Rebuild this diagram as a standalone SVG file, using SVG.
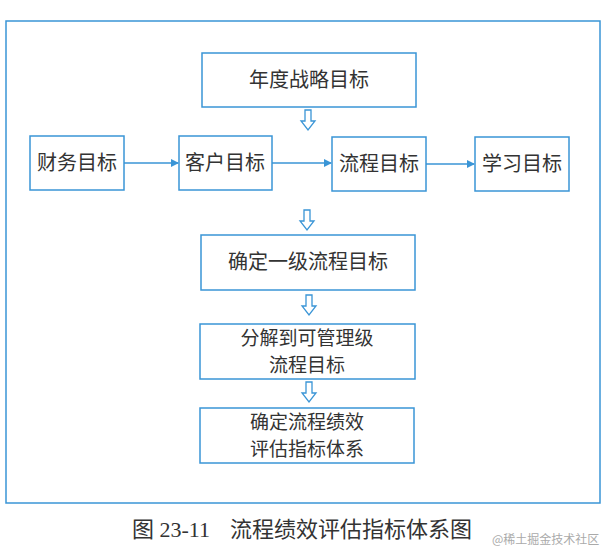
<svg xmlns="http://www.w3.org/2000/svg" width="608" height="550" viewBox="0 0 608 550">
<style>
.b{fill:#fff;stroke:#3a95d6;stroke-width:1.5}
.t{font-family:"Noto Sans CJK SC","Liberation Serif",serif;font-size:20px;fill:#333;text-anchor:middle}
.s{font-size:19px}
.h{fill:#fff;stroke:#3a95d6;stroke-width:1.3}
.l{stroke:#3a95d6;stroke-width:1.5;fill:none}
</style>
<defs><marker id="a" markerWidth="8" markerHeight="8" refX="7" refY="4" orient="auto" markerUnits="userSpaceOnUse"><path d="M0,0 L8,4 L0,8 Z" fill="#3a95d6"/></marker></defs>
<rect width="608" height="550" fill="#fff"/>
<rect x="6" y="21" width="594" height="482" class="b" fill="none"/>
<g id="n1"><rect class="b" x="202" y="53" width="214" height="54"/><text class="t" x="309" y="87">年度战略目标</text></g>
<g id="n2"><rect class="b" x="30" y="136" width="94" height="54"/><text class="t" x="77" y="170">财务目标</text></g>
<g id="n3"><rect class="b" x="179" y="136" width="93" height="54"/><text class="t" x="225" y="170">客户目标</text></g>
<g id="n4"><rect class="b" x="332" y="137" width="94" height="54"/><text class="t" x="379" y="171">流程目标</text></g>
<g id="n5"><rect class="b" x="475" y="137" width="94" height="54"/><text class="t" x="522" y="171">学习目标</text></g>
<g id="n6"><rect class="b" x="201" y="235" width="214" height="55"/><text class="t" x="308" y="269">确定一级流程目标</text></g>
<g id="n7"><rect class="b" x="200" y="324" width="215" height="55"/><text class="t s" x="307" y="345">分解到可管理级</text><text class="t s" x="307" y="372">流程目标</text></g>
<g id="n8"><rect class="b" x="200" y="408" width="214" height="55"/><text class="t s" x="307" y="429">确定流程绩效</text><text class="t s" x="307" y="456">评估指标体系</text></g>
<g id="connectors">
<line class="l" x1="124" y1="163" x2="178" y2="163" marker-end="url(#a)"/>
<line class="l" x1="272" y1="163" x2="331" y2="163" marker-end="url(#a)"/>
<line class="l" x1="426" y1="164" x2="474" y2="164" marker-end="url(#a)"/>
<polygon class="h" points="305,110 311,110 311,121 315,121 308,130 301,121 305,121"/>
<polygon class="h" points="304,210 310,210 310,221 314,221 307,230 300,221 304,221"/>
<polygon class="h" points="306,295 312,295 312,306 316,306 309,315 302,306 306,306"/>
<polygon class="h" points="306,382 312,382 312,393 316,393 309,402 302,393 306,393"/>
</g>
<text x="132" y="537" font-family="Liberation Serif,'Noto Sans CJK SC',serif" font-size="22" fill="#333">图 23-11</text>
<text x="230" y="537" font-family="'Noto Sans CJK SC',serif" font-size="22" fill="#333">流程绩效评估指标体系图</text>
<text x="492" y="544" font-family="'Noto Sans CJK SC',sans-serif" font-size="12" fill="#aaa">@稀土掘金技术社区</text>
</svg>
